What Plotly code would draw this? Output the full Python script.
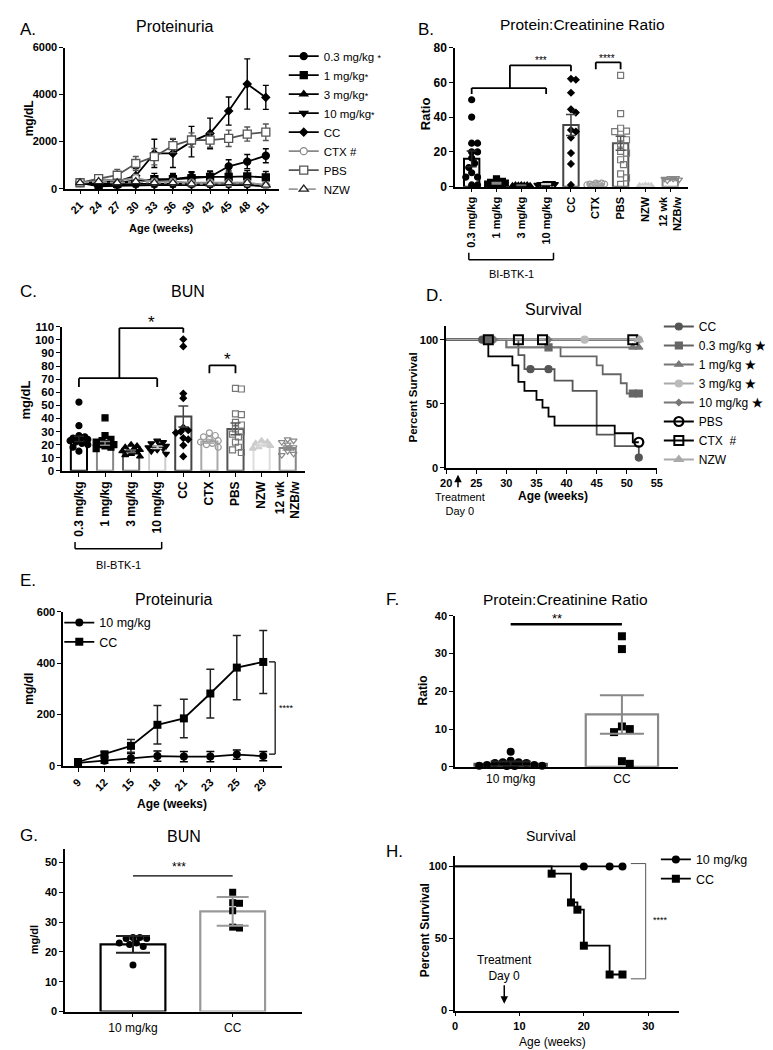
import plotly.graph_objects as go

W, H = 773, 1050
FONT = "Liberation Sans"

def fx(p): return p / W
def fy(p): return 1 - p / H

# ================= DATA =================
# --- A: Proteinuria (weeks) ---
a_weeks = [21, 24, 27, 30, 33, 36, 39, 42, 45, 48, 51]
a_03 = [250, 200, 250, 350, 350, 400, 500, 500, 950, 1150, 1400]
a_03_err = [60, 100, 150, 200, 200, 200, 220, 220, 280, 300, 300]
a_1 = [250, 150, 200, 300, 400, 400, 450, 500, 500, 520, 480]
a_1_err = [60, 100, 150, 200, 250, 250, 250, 250, 250, 250, 250]
a_3 = [250, 150, 150, 200, 200, 200, 200, 200, 250, 200, 150]
a_3_err = [50, 80, 100, 100, 100, 100, 100, 100, 100, 100, 80]
a_10 = [250, 100, 120, 150, 150, 150, 150, 150, 150, 150, 100]
a_10_err = [50, 60, 80, 80, 80, 80, 80, 80, 80, 80, 60]
a_cc = [250, 300, 300, 550, 1500, 1500, 2000, 2350, 3300, 4450, 3880]
a_cc_err = [60, 150, 200, 300, 600, 600, 650, 650, 600, 1070, 510]
a_ctx = [250, 400, 350, 450, 300, 300, 250, 250, 250, 250, 150]
a_ctx_err = [50, 100, 100, 150, 100, 100, 80, 80, 80, 80, 60]
a_pbs = [250, 430, 570, 1070, 1360, 1830, 2070, 2060, 2140, 2320, 2400]
a_pbs_err = [60, 120, 250, 300, 350, 300, 300, 300, 350, 300, 350]
a_nzw = [250, 300, 250, 300, 250, 250, 200, 200, 250, 250, 150]
a_nzw_err = [40, 60, 60, 60, 60, 60, 60, 60, 60, 60, 40]

# --- B: Protein:Creatinine ratio ---
b_cats = ["0.3 mg/kg", "1 mg/kg", "3 mg/kg", "10 mg/kg", "CC", "CTX", "PBS", "NZW", "12 wk<br>NZB/w"]
b_means = [16, 2, 0.8, 1.5, 35.5, 1.5, 25, 0.5, 4.5]
b_sem = [4.5, 0.4, 0.1, 0.2, 6, 0.2, 4, 0.1, 0.4]
b_p03 = [50, 40, 25, 25, 20, 20, 16.5, 13.5, 11, 8, 5.5, 5.5, 1, 1]
b_p1 = [4.5, 3, 2.5, 2, 2, 1.5, 1.5, 1, 1, 1.2]
b_p3 = [1, 1, 0.8, 0.6, 0.5, 0.8, 1, 0.5]
b_p10 = [2, 1.5, 1.5, 1.2, 1, 1, 1.5, 2]
b_pcc = [62, 61.5, 54, 44.5, 42.6, 32.6, 31.7, 28.2, 19.3, 13.1, 1]
b_pctx = [1.5, 1, 2, 1.5, 1, 2, 1.5, 1]
b_ppbs = [64, 42, 32, 31.7, 33.6, 28, 27, 24.5, 20.3, 19.3, 15.5, 12.7, 7.4, 5.1, 1.3]
b_pnzw = [0.5, 0.5, 0.3, 0.8, 0.5]
b_p12 = [5, 4.5, 4, 5, 4.5, 3.5]

# --- C: BUN ---
c_cats = b_cats
c_means = [24.5, 21, 15, 18, 41.5, 22.5, 32, 19.5, 17.5]
c_sem = [2, 1.5, 1, 1, 8, 1.5, 4.5, 1, 1.5]
c_p03 = [52.5, 34.5, 27, 26, 25, 25, 24, 24, 23, 22, 21, 20, 18, 15]
c_p1 = [40.5, 27, 24, 23, 22, 21, 20, 20, 19, 18, 17]
c_p3 = [20, 19, 18, 17, 16, 15, 15, 14, 13, 12, 11]
c_p10 = [23, 22, 21, 20, 19, 18, 18, 17, 16, 15, 13]
c_pcc = [100.5, 95, 59, 55.5, 33, 31, 30, 29, 25, 24, 19.5, 11]
c_pctx = [29, 27, 26, 24, 23, 22, 21, 20, 18]
c_ppbs = [63, 62.5, 43.5, 43, 37, 35, 32, 30, 28, 26, 22, 18, 16, 14]
c_pnzw = [23, 22, 21, 20, 19, 18, 17]
c_p12 = [24, 23, 22, 20, 18, 15, 13, 12]

# --- D: Survival ---
d_cc_x = [20, 32, 33, 38, 41, 45, 48, 52]
d_cc_y = [100, 88, 77, 68, 60, 26, 17, 8]
d_cc_cx = [26, 34, 37, 52]
d_cc_cy = [100, 77, 77, 8]
d_03_x = [20, 30, 39, 45, 46, 49, 50, 52]
d_03_y = [100, 94, 87, 80, 73, 66, 58, 58]
d_03_cx = [27, 37, 51, 52]
d_03_cy = [100, 94, 58, 58]
d_1_x = [20, 30, 52]
d_1_y = [100, 94, 94]
d_1_cx = [51, 52]
d_1_cy = [94, 94]
d_3_x = [20, 52]
d_3_y = [100, 100]
d_3_cx = [43, 52]
d_3_cy = [100, 100]
d_10_x = [20, 52]
d_10_y = [100, 100]
d_10_cx = [28, 37, 52]
d_10_cy = [100, 100, 100]
d_pbs_x = [20, 27, 31, 32, 33, 35, 36, 37, 38, 48, 51, 52]
d_pbs_y = [100, 87, 80, 67, 60, 53, 47, 40, 33, 27, 20, 20]
d_pbs_cx = [52]
d_pbs_cy = [20]
d_ctx_x = [20, 52]
d_ctx_y = [100, 100]
d_ctx_cx = [27, 32, 36, 51]
d_ctx_cy = [100, 100, 100, 100]
d_nzw_x = [20, 52]
d_nzw_y = [100, 100]
d_nzw_cx = [52]
d_nzw_cy = [100]

# --- E: Proteinuria ---
e_weeks = ["9", "12", "15", "18", "21", "23", "25", "29"]
e_10 = [12, 20, 30, 38, 36, 36, 44, 38]
e_10_err = [8, 10, 18, 20, 20, 20, 18, 18]
e_cc = [15, 45, 78, 160, 185, 282, 383, 405]
e_cc_err = [8, 10, 25, 75, 75, 95, 125, 123]

# --- F: Protein:Creatinine ratio ---
f_cats = ["10 mg/kg", "CC"]
f_means = [0.8, 13.9]
f_sem = [0.6, 5.1]
f_p10 = [4, 1.6, 1.2, 1.0, 0.5, 0.3, 0.2, 0.2, 0.3, 0.5, 1.0, 1.2]
f_pcc = [34.6, 31.2, 10.7, 10.0, 9.2, 1.5, 0.8]

# --- G: BUN ---
g_cats = ["10 mg/kg", "CC"]
g_means = [22.5, 33.6]
g_sd = [2.8, 4.8]
g_p10 = [24.8, 24.5, 23, 22.5, 21.8, 23, 24.5, 24.8, 15.6]
g_pcc = [40, 36.3, 36.5, 33.8, 28, 28.3]

# --- H: Survival ---
h_10_x = [0, 26]
h_10_y = [100, 100]
h_10_cx = [20, 24, 26]
h_10_cy = [100, 100, 100]
h_cc_x = [0, 15, 18, 19, 20, 24, 26]
h_cc_y = [100, 95, 75, 70, 45, 25, 25]
h_cc_cx = [15, 18, 19, 20, 24, 26]
h_cc_cy = [95, 75, 70, 45, 25, 25]

# ================= HELPERS =================
def tf(size=11, bold=True, color="black"):
    return dict(family=FONT, size=size, color=color, weight="bold" if bold else "normal")

def ax(**kw):
    d = dict(showline=True, linecolor="black", linewidth=1.6, ticks="outside", ticklen=4,
             tickwidth=1.4, tickcolor="black", showgrid=False, zeroline=False,
             tickfont=tf(), fixedrange=True)
    d.update(kw)
    return d

def swarm(vals, ys, xs, d, maxw):
    """Horizontal offsets (in category units) so markers of diameter d px don't overlap."""
    placed = []
    res = [0.0] * len(vals)
    cands = [0.0]
    k = 1
    while k * d * 0.5 <= maxw:
        cands += [k * d * 0.5, -k * d * 0.5]
        k += 1
    order = sorted(range(len(vals)), key=lambda i: -vals[i])
    for i in order:
        y = vals[i] * ys
        best, bestc, bestd = None, 0.0, -1
        for c in cands:
            md = min([((c - p) ** 2 + (y - q) ** 2) ** 0.5 for p, q in placed], default=1e9)
            if md >= d * 0.9:
                best = c
                break
            if md > bestd:
                bestd, bestc = md, c
        if best is None:
            best = bestc
        placed.append((best, y))
        res[i] = best / xs
    return res

fig = go.Figure()
shapes = []
anns = []

def ann(text, x, y, size=11, bold=False, angle=0, xanchor="center", yanchor="middle", color="black"):
    anns.append(dict(text=text, x=fx(x), y=fy(y), xref="paper", yref="paper", showarrow=False,
                     font=tf(size, bold, color), textangle=angle, xanchor=xanchor, yanchor=yanchor))

def dline(xr, yr, x0, y0, x1, y1, color="black", width=1.8):
    shapes.append(dict(type="line", xref=xr, yref=yr, x0=x0, y0=y0, x1=x1, y1=y1,
                       line=dict(color=color, width=width)))

def pline(x0, y0, x1, y1, color="black", width=1.5):
    shapes.append(dict(type="line", xref="paper", yref="paper", x0=fx(x0), y0=fy(y0), x1=fx(x1), y1=fy(y1),
                       line=dict(color=color, width=width)))

# ================= PANEL A =================
a_series = [
    ("0.3 mg/kg <span style='font-size:9px'>*</span>", a_03, a_03_err, "circle", "black", "black", "black", "solid", 7),
    ("1 mg/kg<span style='font-size:9px'>*</span>", a_1, a_1_err, "square", "black", "black", "black", "solid", 7),
    ("3 mg/kg<span style='font-size:9px'>*</span>", a_3, a_3_err, "triangle-up", "black", "black", "black", "solid", 7),
    ("10 mg/kg<span style='font-size:9px'>*</span>", a_10, a_10_err, "triangle-down", "black", "black", "black", "solid", 7),
    ("CC", a_cc, a_cc_err, "diamond", "black", "black", "black", "solid", 6),
    ("CTX #", a_ctx, a_ctx_err, "circle", "#888888", "white", "#888888", "solid", 7),
    ("PBS", a_pbs, a_pbs_err, "square", "#555555", "white", "#555555", "solid", 8),
    ("NZW", a_nzw, a_nzw_err, "triangle-up", "#222222", "white", "#999999", "dashdot", 8),
]
for name, ys, errs, sym, mcol, fill, lcol, dash, size in a_series:
    fig.add_trace(go.Scatter(
        x=a_weeks, y=ys, name=name, mode="lines+markers", xaxis="x", yaxis="y", legend="legend",
        line=dict(color=lcol, width=1.8, dash=dash),
        marker=dict(symbol=sym, size=size, color=fill, line=dict(color=mcol, width=1.3)),
        error_y=dict(type="data", array=errs, color=mcol if mcol != "#222222" else "black", thickness=1.4, width=3),
        cliponaxis=False))

# ================= PANELS B & C (bars + dots) =================
bar_cols = ["black", "#888888", "#666666", "#cccccc", "#444444", "#aaaaaa", "#555555", "#dddddd", "#888888"]
pt_style = [
    ("circle", "black", 6), ("square", "black", 6), ("triangle-up", "black", 6),
    ("triangle-down", "black", 6), ("diamond", "black", 5), ("circle-open", "#999999", 6),
    ("square-open", "#777777", 6), ("triangle-up", "#cccccc", 6), ("triangle-down-open", "#888888", 6),
]

def bar_panel(xa, ya, means, errs, pts, ys, xs, err_w):
    n = len(means)
    fig.add_trace(go.Bar(x=list(range(n)), y=means, width=0.62, xaxis=xa, yaxis=ya, showlegend=False,
                         marker=dict(color="white", line=dict(color=bar_cols, width=2))))
    for i, vals in enumerate(pts):
        sym, col, sz = pt_style[i]
        offs = swarm(vals, ys, xs, sz, 10)
        fig.add_trace(go.Scatter(x=[i + o for o in offs], y=vals, mode="markers", xaxis=xa, yaxis=ya,
                                 showlegend=False, cliponaxis=False,
                                 marker=dict(symbol=sym, size=sz, color=col, line=dict(color=col, width=1.2))))
    for i in range(n):
        fig.add_trace(go.Scatter(x=[i], y=[means[i]], mode="markers", xaxis=xa, yaxis=ya, showlegend=False,
                                 marker=dict(size=1, color="rgba(0,0,0,0)"),
                                 error_y=dict(type="data", array=[errs[i]], color=bar_cols[i] if bar_cols[i] != "black" else "#222",
                                              thickness=1.5, width=err_w)))

bar_panel("x2", "y2", b_means, b_sem, [b_p03, b_p1, b_p3, b_p10, b_pcc, b_pctx, b_ppbs, b_pnzw, b_p12],
          141 / 80, 25.3, 5)
bar_panel("x3", "y3", c_means, c_sem, [c_p03, c_p1, c_p3, c_p10, c_pcc, c_pctx, c_ppbs, c_pnzw, c_p12],
          146 / 110, 26.5, 5)

# B brackets
dline("x2", "y2", 0, 56.7, 3, 56.7)
dline("x2", "y2", 0, 56.7, 0, 53.3)
dline("x2", "y2", 3, 56.7, 3, 53.3)
dline("x2", "y2", 1.54, 56.7, 1.54, 69.8)
dline("x2", "y2", 1.54, 69.8, 4, 69.8)
dline("x2", "y2", 4, 69.8, 4, 66.4)
dline("x2", "y2", 5, 71.5, 6, 71.5)
dline("x2", "y2", 5, 71.5, 5, 67.5)
dline("x2", "y2", 6, 71.5, 6, 67.5)
ann("***", 535, 46, 10)
ann("****", 602, 44, 10)
pline(462, 248, 548, 248)
pline(462, 241, 462, 248)
pline(548, 241, 548, 248)
ann("BI-BTK-1", 505, 263, 11)

# C brackets
dline("x3", "y3", 0, 70.8, 3, 70.8)
dline("x3", "y3", 0, 70.8, 0, 64)
dline("x3", "y3", 3, 70.8, 3, 64)
dline("x3", "y3", 1.55, 70.8, 1.55, 109)
dline("x3", "y3", 1.55, 109, 4, 109)
dline("x3", "y3", 4, 109, 4, 105.5)
dline("x3", "y3", 5, 80.6, 6, 80.6)
dline("x3", "y3", 5, 80.6, 5, 74.6)
dline("x3", "y3", 6, 80.6, 6, 74.6)
ann("*", 140, 312, 17)
ann("*", 217, 349, 17)
pline(62, 541, 150, 541)
pline(62, 534, 62, 541)
pline(150, 534, 150, 541)
ann("BI-BTK-1", 106, 557, 11)

# ================= PANEL D =================
d_groups = [
    ("CC", d_cc_x, d_cc_y, d_cc_cx, d_cc_cy, "#555555", "circle", "#555555", 7, 1.2),
    ("0.3 mg/kg <b>★</b>", d_03_x, d_03_y, d_03_cx, d_03_cy, "#666666", "square", "#666666", 7, 1.2),
    ("1 mg/kg <b>★</b>", d_1_x, d_1_y, d_1_cx, d_1_cy, "#777777", "triangle-up", "#777777", 7, 1.2),
    ("3 mg/kg <b>★</b>", d_3_x, d_3_y, d_3_cx, d_3_cy, "#aaaaaa", "circle", "#bbbbbb", 7, 1.2),
    ("10 mg/kg <b>★</b>", d_10_x, d_10_y, d_10_cx, d_10_cy, "#777777", "diamond", "#777777", 5, 1.2),
    ("PBS", d_pbs_x, d_pbs_y, d_pbs_cx, d_pbs_cy, "black", "circle-open", "black", 9, 2.2),
    ("CTX  #", d_ctx_x, d_ctx_y, d_ctx_cx, d_ctx_cy, "black", "square-open", "black", 9, 2.0),
    ("NZW", d_nzw_x, d_nzw_y, d_nzw_cx, d_nzw_cy, "#aaaaaa", "triangle-up", "#aaaaaa", 8, 1.2),
]
for name, xs_, ys_, cx, cy, lc, sym, mc, sz, mlw in d_groups:
    fig.add_trace(go.Scatter(x=xs_, y=ys_, mode="lines", line=dict(color=lc, width=1.8, shape="hv"),
                             xaxis="x4", yaxis="y4", showlegend=False, cliponaxis=False))
for name, xs_, ys_, cx, cy, lc, sym, mc, sz, mlw in d_groups:
    fig.add_trace(go.Scatter(x=cx, y=cy, mode="markers", xaxis="x4", yaxis="y4", showlegend=False,
                             cliponaxis=False, marker=dict(symbol=sym, size=sz, color=mc, line=dict(color=mc, width=mlw))))
    fig.add_trace(go.Scatter(x=[None], y=[None], mode="lines+markers", name=name, legend="legend2",
                             xaxis="x4", yaxis="y4", line=dict(color=lc, width=1.8),
                             marker=dict(symbol=sym, size=sz, color=mc, line=dict(color=mc, width=mlw))))
ann("Treatment<br>Day 0", 453, 496, 11)
anns.append(dict(x=fx(451), y=fy(466), xref="paper", yref="paper", ax=0, ay=14, text="", showarrow=True,
                 arrowhead=2, arrowsize=1, arrowwidth=1.5, arrowcolor="black"))

# ================= PANEL E =================
e_idx = list(range(len(e_weeks)))
fig.add_trace(go.Scatter(x=e_idx, y=e_10, name="10 mg/kg", mode="lines+markers", xaxis="x5", yaxis="y5",
                         legend="legend3", cliponaxis=False, line=dict(color="black", width=1.8),
                         marker=dict(symbol="circle", size=8, color="black"),
                         error_y=dict(type="data", array=e_10_err, color="black", thickness=1.5, width=4)))
fig.add_trace(go.Scatter(x=e_idx, y=e_cc, name="CC", mode="lines+markers", xaxis="x5", yaxis="y5",
                         legend="legend3", cliponaxis=False, line=dict(color="black", width=1.8),
                         marker=dict(symbol="square", size=8, color="black"),
                         error_y=dict(type="data", array=e_cc_err, color="#222", thickness=1.5, width=4)))
dline("x5", "y5", 7.45, 46, 7.45, 405, width=1.2)
dline("x5", "y5", 7.45, 46, 7.22, 46, width=1.2)
dline("x5", "y5", 7.45, 405, 7.22, 405, width=1.2)
ann("****", 277, 702, 9)

# ================= PANELS F & G =================
def two_bar(xa, ya, means, errs, p10, pcc, cols, ys, xs, err_w, sz, maxw):
    fig.add_trace(go.Bar(x=[0, 1], y=means, width=0.65, xaxis=xa, yaxis=ya, showlegend=False,
                         marker=dict(color="white", line=dict(color=cols, width=2.2))))
    for i, (vals, sym) in enumerate([(p10, "circle"), (pcc, "square")]):
        offs = swarm(vals, ys, xs, sz, maxw)
        fig.add_trace(go.Scatter(x=[i + o for o in offs], y=vals, mode="markers", xaxis=xa, yaxis=ya,
                                 showlegend=False, cliponaxis=False,
                                 marker=dict(symbol=sym, size=sz, color="black")))
    for i in range(2):
        fig.add_trace(go.Scatter(x=[i], y=[means[i]], mode="markers", xaxis=xa, yaxis=ya, showlegend=False,
                                 marker=dict(size=1, color="rgba(0,0,0,0)"),
                                 error_y=dict(type="data", array=[errs[i]], color=cols[i] if i == 1 else "#222",
                                              thickness=2, width=err_w[i])))

two_bar("x6", "y6", f_means, f_sem, f_p10, f_pcc, ["#555555", "#888888"], 153 / 40, 113, [20, 22], 8, 38)
dline("x6", "y6", 0, 37.8, 1, 37.8, width=2.5)
ann("**", 552, 612, 13)

two_bar("x7", "y7", g_means, g_sd, g_p10, g_pcc, ["black", "#999999"], 151 / 50, 102, [17, 16], 7, 32)
dline("x7", "y7", 0, 45.5, 1, 45.5, width=1.2)
ann("***", 168, 864, 12)

# ================= PANEL H =================
h_groups = [
    ("10 mg/kg", h_10_x, h_10_y, h_10_cx, h_10_cy, "circle"),
    ("CC", h_cc_x, h_cc_y, h_cc_cx, h_cc_cy, "square"),
]
for name, xs_, ys_, cx, cy, sym in h_groups:
    fig.add_trace(go.Scatter(x=xs_, y=ys_, mode="lines", line=dict(color="black", width=1.8, shape="hv"),
                             xaxis="x8", yaxis="y8", showlegend=False, cliponaxis=False))
for name, xs_, ys_, cx, cy, sym in h_groups:
    fig.add_trace(go.Scatter(x=cx, y=cy, mode="markers", xaxis="x8", yaxis="y8", showlegend=False,
                             cliponaxis=False, marker=dict(symbol=sym, size=8, color="black")))
    fig.add_trace(go.Scatter(x=[None], y=[None], mode="lines+markers", name=name, legend="legend4",
                             xaxis="x8", yaxis="y8", line=dict(color="black", width=1.8),
                             marker=dict(symbol=sym, size=8, color="black")))
dline("x8", "y8", 29.6, 22, 29.6, 102, color="#555", width=1)
dline("x8", "y8", 29.6, 22, 27.3, 22, color="#555", width=1)
dline("x8", "y8", 29.6, 102, 27.3, 102, color="#555", width=1)
ann("****", 657, 917, 9)
ann("Treatment<br>Day 0", 498, 966, 12)
anns.append(dict(x=fx(498), y=fy(1002), xref="paper", yref="paper", ax=0, ay=-20, text="", showarrow=True,
                 arrowhead=2, arrowsize=1, arrowwidth=1.5, arrowcolor="black"))

# ================= TITLES / LABELS =================
for t, x, y in [("A.", 4, 15), ("B.", 408, 15), ("C.", 4, 280), ("D.", 416, 284),
                ("E.", 4, 573), ("F.", 376, 592), ("G.", 4, 832), ("H.", 376, 848)]:
    ann(t, x, y, 17, xanchor="left")
ann("Proteinuria", 163, 12, 16)
ann("Protein:Creatinine Ratio", 577, 10, 15.5)
ann("BUN", 177, 280, 16)
ann("Survival", 548, 298, 16)
ann("Proteinuria", 162, 592, 16)
ann("Protein:Creatinine Ratio", 560, 592, 15.5)
ann("BUN", 173, 833, 16)
ann("Survival", 545, 832, 14)

ann("mg/dL", 15, 105, 12, True, -90)
ann("Age (weeks)", 150, 216, 11, True)
ann("Ratio", 418, 100, 13, True, -90)
ann("mg/dL", 12, 390, 13, True, -90)
ann("Percent Survival", 405, 388, 11.5, True, -90)
ann("Age (weeks)", 547, 488, 12, True)
ann("mg/dl", 15, 683, 12, True, -90)
ann("Age (weeks)", 160, 800, 12, True)
ann("Ratio", 415, 685, 12, True, -90)
ann("mg/dl", 20, 937, 11, True, -90)
ann("Percent Survival", 417, 928, 12, True, -90)
ann("Age (weeks)", 547, 1041, 12)

# ================= AXES =================
idx9 = list(range(len(b_cats)))
layout_axes = dict(
    xaxis=ax(domain=[fx(52), fx(269)], range=[18.6, 53.1], tickvals=a_weeks,
             ticktext=[str(w) for w in a_weeks], tickangle=-45, anchor="y"),
    yaxis=ax(domain=[fy(176), fy(33)], range=[0, 6000], tickvals=[0, 2000, 4000, 6000],
             ticktext=["0", "2000", "4000", "6000"], anchor="x"),
    xaxis2=ax(domain=[fx(448), fx(685)], range=[-0.67, 8.73], tickvals=idx9, ticktext=b_cats,
              tickangle=-90, anchor="y2"),
    yaxis2=ax(domain=[fy(174), fy(33)], range=[0, 80], tickvals=[0, 20, 40, 60, 80], anchor="x2",
              tickfont=tf(12)),
    xaxis3=ax(domain=[fx(49), fx(296)], range=[-0.64, 8.68], tickvals=idx9, ticktext=c_cats,
              tickangle=-90, anchor="y3", tickfont=tf(12)),
    yaxis3=ax(domain=[fy(462), fy(316)], range=[0, 110], tickvals=list(range(0, 111, 10)), anchor="x3",
              tickfont=tf(11.5)),
    xaxis4=ax(domain=[fx(439), fx(653)], range=[20, 55], tickvals=[20, 25, 30, 35, 40, 45, 50, 55], anchor="y4"),
    yaxis4=ax(domain=[fy(459), fy(315)], range=[0, 110.8], tickvals=[0, 50, 100], anchor="x4"),
    xaxis5=ax(domain=[fx(50), fx(272)], range=[-0.56, 7.7], tickvals=e_idx, ticktext=e_weeks,
              tickangle=-45, anchor="y5"),
    yaxis5=ax(domain=[fy(761), fy(605)], range=[0, 600], tickvals=[0, 200, 400, 600], anchor="x5"),
    xaxis6=ax(domain=[fx(448), fx(674)], range=[-0.5, 1.5], tickvals=[0, 1], ticktext=f_cats,
              anchor="y6", tickfont=tf(12, False), ticklen=0),
    yaxis6=ax(domain=[fy(762), fy(609)], range=[0, 40], tickvals=[0, 10, 20, 30, 40], anchor="x6"),
    xaxis7=ax(domain=[fx(52), fx(293)], range=[-0.68, 1.7], tickvals=[0, 1], ticktext=g_cats,
              anchor="y7", tickfont=tf(12, False)),
    yaxis7=ax(domain=[fy(1010), fy(845)], range=[0, 54.6], tickvals=[0, 10, 20, 30, 40, 50], anchor="x7"),
    xaxis8=ax(domain=[fx(448), fx(675)], range=[0, 34.7], tickvals=[0, 10, 20, 30], anchor="y8"),
    yaxis8=ax(domain=[fy(1009), fy(852)], range=[0, 107.5], tickvals=[0, 50, 100], anchor="x8"),
)

def leg(x, y, size=12):
    return dict(x=fx(x), y=fy(y), xanchor="left", yanchor="top", bgcolor="rgba(0,0,0,0)",
                font=dict(family=FONT, size=size, color="black"), tracegroupgap=0, itemwidth=30)

fig.update_layout(
    width=W, height=H, margin=dict(l=0, r=0, t=0, b=0),
    paper_bgcolor="white", plot_bgcolor="white", showlegend=True,
    font=dict(family=FONT, color="black"),
    legend=leg(274, 27, 11.5),
    legend2=leg(655, 301, 12),
    legend3=leg(46, 601, 12.5),
    legend4=leg(652, 841, 12.5),
    shapes=shapes, annotations=anns,
    **layout_axes,
)

fig.write_html("out.html")
